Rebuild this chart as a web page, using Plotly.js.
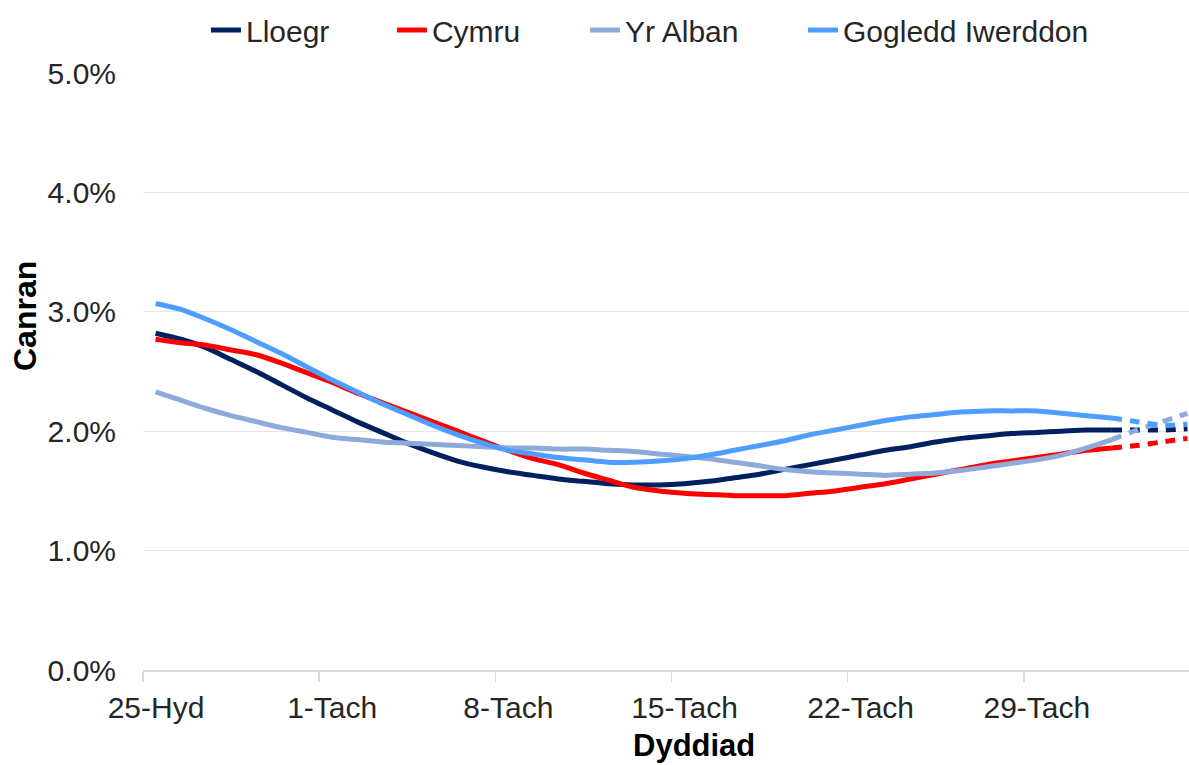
<!DOCTYPE html>
<html>
<head>
<meta charset="utf-8">
<script src="https://cdn.plot.ly/plotly-3.0.1.min.js"></script>
<style>
  html, body { margin: 0; padding: 0; background: #ffffff; }
  #chart { width: 1189px; height: 765px; }
</style>
</head>
<body>
<div id="chart"></div>
<script>
// ---- Data (values in percent) ----
const dates = [
  '2020-10-25','2020-10-26','2020-10-27','2020-10-28','2020-10-29','2020-10-30','2020-10-31',
  '2020-11-01','2020-11-02','2020-11-03','2020-11-04','2020-11-05','2020-11-06','2020-11-07',
  '2020-11-08','2020-11-09','2020-11-10','2020-11-11','2020-11-12','2020-11-13','2020-11-14',
  '2020-11-15','2020-11-16','2020-11-17','2020-11-18','2020-11-19','2020-11-20','2020-11-21',
  '2020-11-22','2020-11-23','2020-11-24','2020-11-25','2020-11-26','2020-11-27','2020-11-28',
  '2020-11-29','2020-11-30','2020-12-01','2020-12-02'
];
const projDates = ['2020-12-02','2020-12-03','2020-12-04','2020-12-05'];

const lloegr = [2.82,2.77,2.70,2.60,2.50,2.39,2.28,2.18,2.08,1.99,1.90,1.82,1.75,1.70,
  1.66,1.63,1.60,1.58,1.56,1.55,1.55,1.56,1.58,1.61,1.64,1.68,1.72,1.76,
  1.80,1.84,1.87,1.91,1.94,1.96,1.98,1.99,2.00,2.01,2.01];
const lloegrProj = [2.01,2.01,2.01,2.02];

const cymru = [2.77,2.74,2.72,2.68,2.64,2.57,2.49,2.41,2.32,2.24,2.16,2.08,2.00,1.92,
  1.84,1.77,1.72,1.65,1.59,1.53,1.50,1.48,1.47,1.46,1.46,1.46,1.48,1.50,
  1.53,1.56,1.60,1.64,1.68,1.72,1.75,1.78,1.81,1.84,1.86];
const cymruProj = [1.86,1.88,1.91,1.94];

const yrAlban = [2.33,2.26,2.19,2.13,2.08,2.03,1.99,1.95,1.93,1.91,1.90,1.89,1.88,1.87,
  1.86,1.86,1.85,1.85,1.84,1.83,1.81,1.79,1.77,1.74,1.71,1.68,1.66,1.65,
  1.64,1.63,1.64,1.65,1.67,1.70,1.73,1.76,1.80,1.86,1.93];
const yrAlbanProj = [1.93,2.01,2.08,2.15];

const gogledd = [3.07,3.02,2.94,2.85,2.75,2.65,2.54,2.43,2.33,2.23,2.14,2.05,1.97,1.90,
  1.84,1.81,1.78,1.76,1.74,1.74,1.75,1.77,1.80,1.84,1.88,1.92,1.97,2.01,
  2.05,2.09,2.12,2.14,2.16,2.17,2.17,2.17,2.15,2.13,2.11];
const gogleddProj = [2.11,2.08,2.05,2.06];

const seriesNames = ['Lloegr','Cymru','Yr Alban','Gogledd Iwerddon'];
const seriesColors = ['#002060','#ff0000','#8eaadb','#4d9eff'];

const tickVals = ['2020-10-24 12:00','2020-10-31 12:00','2020-11-07 12:00','2020-11-14 12:00','2020-11-21 12:00','2020-11-28 12:00'];
const tickLabels = ['25-Hyd','1-Tach','8-Tach','15-Tach','22-Tach','29-Tach'];
const yTicks = [0,1,2,3,4,5];
const yTickLabels = ['0.0%','1.0%','2.0%','3.0%','4.0%','5.0%'];

// ---- Build traces ----
const solid = [lloegr, cymru, yrAlban, gogledd];
const proj = [lloegrProj, cymruProj, yrAlbanProj, gogleddProj];
const legendIds = ['legend','legend2','legend3','legend4'];
const traces = [];
solid.forEach((vals, i) => {
  traces.push({
    x: dates, y: vals, type: 'scatter', mode: 'lines', name: seriesNames[i],
    legend: legendIds[i],
    line: {color: seriesColors[i], width: 5, shape: 'spline', smoothing: 0.8},
    hoverinfo: 'x+y+name'
  });
});
proj.forEach((vals, i) => {
  traces.push({
    x: projDates, y: vals, type: 'scatter', mode: 'lines', name: seriesNames[i],
    showlegend: false,
    line: {color: seriesColors[i], width: 5, shape: 'spline', smoothing: 0.8, dash: '10px,8px'},
    hoverinfo: 'x+y+name'
  });
});

const FONT = 'Liberation Sans, Arial, sans-serif';
const legendX = [0.0602, 0.2380, 0.4226, 0.6310];
function legendBox(x) {
  return {
    orientation: 'h', x: x, xanchor: 'left', y: 1.072, yanchor: 'middle',
    font: {family: FONT, size: 30, color: '#262626'},
    bgcolor: 'rgba(0,0,0,0)', borderwidth: 0
  };
}

const layout = {
  width: 1189, height: 765,
  margin: {l: 143, r: 0, t: 73, b: 95, pad: 0},
  paper_bgcolor: '#ffffff', plot_bgcolor: '#ffffff',
  font: {family: FONT, size: 30, color: '#262626'},
  showlegend: true,
  legend: legendBox(legendX[0]),
  legend2: legendBox(legendX[1]),
  legend3: legendBox(legendX[2]),
  legend4: legendBox(legendX[3]),
  xaxis: {
    type: 'date',
    range: ['2020-10-24 12:00', '2020-12-05 01:30'],
    tickmode: 'array', tickvals: tickVals, ticktext: tickLabels,
    ticklabelshift: 13,
    ticks: 'outside', ticklen: 10, tickcolor: '#d9d9d9', tickwidth: 1.5,
    showline: true, linecolor: '#d9d9d9', linewidth: 1.5,
    showgrid: false, zeroline: false,
    tickfont: {family: FONT, size: 30, color: '#262626'},
    fixedrange: true
  },
  yaxis: {
    range: [0, 5],
    tickmode: 'array', tickvals: yTicks, ticktext: yTickLabels,
    showgrid: true, gridcolor: '#e6e6e6', gridwidth: 1.2,
    zeroline: false, showline: false, ticks: '',
    ticklabelstandoff: 26,
    tickfont: {family: FONT, size: 30, color: '#262626'},
    fixedrange: true
  },
  annotations: [
    {text: '<b>Canran</b>', xref: 'paper', yref: 'paper', x: -0.1128, y: 0.593,
     xanchor: 'center', yanchor: 'middle', textangle: -90, showarrow: false,
     font: {family: FONT, size: 32, color: '#000000'}},
    {text: '<b>Dyddiad</b>', xref: 'paper', yref: 'paper', x: 0.527, y: -0.159,
     xanchor: 'center', yanchor: 'bottom', showarrow: false,
     font: {family: FONT, size: 31, color: '#000000'}}
  ]
};

Plotly.newPlot('chart', traces, layout, {displayModeBar: false, staticPlot: true});
</script>
</body>
</html>
